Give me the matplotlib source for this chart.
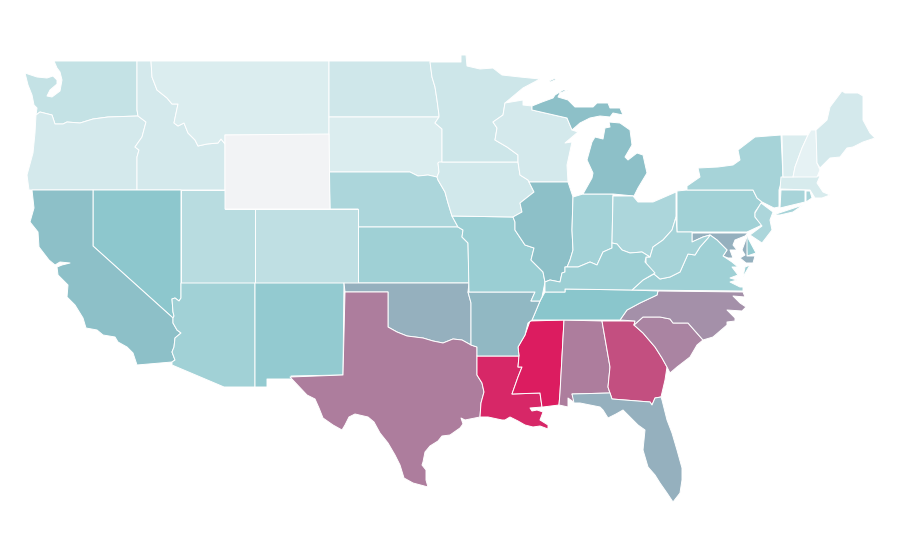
import matplotlib
matplotlib.use("Agg")
import matplotlib.pyplot as plt
from matplotlib.colors import LinearSegmentedColormap, Normalize

# outlines, (x, y) with y going down
WA = [(54,61),(137,61),(137,110),(138,116),(108,117),(93,119),(80,123),(67,122),(63,124),(55,124),(52,115),(40,112),(36,115),(37,108),(34,105),(32,95),(28,85),(25,73),(37,77),(47,78),(53,76),(57,80),(57,84),(50,90),(47,96),(52,97),(60,91),(62,80),(60,72),(57,68)]
OR = [(36,115),(40,112),(52,115),(55,124),(63,124),(67,122),(80,123),(93,119),(108,117),(138,116),(146,122),(142,137),(135,147),(139,150),(137,157),(137,190),(29,190),(27,175),(33,153),(35,133)]
ID = [(137,61),(151,61),(152,77),(157,90),(167,98),(172,104),(178,104),(175,118),(174,123),(178,126),(184,123),(188,133),(195,140),(198,146),(207,144),(218,143),(221,139),(225,144),(225,190),(137,190),(137,157),(139,150),(135,147),(142,137),(146,122),(138,116),(137,110)]
MT = [(151,61),(329,61),(329,135),(225,135),(225,144),(221,139),(218,143),(207,144),(198,146),(195,140),(188,133),(184,123),(178,126),(174,123),(175,118),(178,104),(172,104),(167,98),(157,90),(152,77)]
WY = [(225,135),(329,134),(330,209),(225,209)]
ND = [(329,61),(430,61),(432,77),(435,87),(437,100),(439,115),(439,117),(329,117)]
SD = [(329,117),(439,117),(435,123),(442,129),(442,162),(438,163),(439,172),(437,177),(428,175),(418,176),(410,172),(329,172)]
NE = [(329,172),(410,172),(418,176),(428,175),(437,177),(438,180),(445,192),(448,203),(452,216),(458,227),(358,227),(358,209),(330,209)]
KS = [(358,227),(458,227),(463,230),(462,237),(468,243),(469,283),(358,283)]
CO = [(255,209),(358,209),(358,283),(255,283)]
UT = [(181,190),(225,190),(225,209),(255,209),(255,283),(181,283)]
NV = [(93,190),(181,190),(181,298),(179,301),(175,298),(172,299),(173,312),(174,316),(173,318),(93,246)]
CA = [(32,190),(93,190),(93,246),(173,318),(173,323),(177,330),(181,333),(175,338),(174,347),(172,352),(175,360),(172,362),(137,365),(133,353),(127,347),(118,342),(115,337),(103,335),(97,330),(86,328),(83,318),(75,305),(67,297),(68,285),(58,275),(57,267),(62,265),(70,263),(60,262),(55,265),(49,260),(39,247),(38,232),(30,222),(34,208)]
AZ = [(181,283),(255,283),(255,387),(224,387),(172,365),(172,362),(175,360),(172,352),(174,347),(175,338),(181,333),(177,330),(173,323),(173,318),(174,316),(173,312),(172,299),(175,298),(179,301),(181,298)]
NM = [(255,283),(344,283),(343,375),(291,376),(293,379),(267,379),(267,387),(255,387)]
OK = [(344,283),(469,283),(468,292),(471,303),(471,345),(462,340),(453,339),(443,343),(433,341),(423,338),(415,337),(407,336),(397,332),(388,327),(388,292),(345,292)]
TX = [(345,292),(388,292),(388,327),(397,332),(407,336),(415,337),(423,338),(433,341),(443,343),(453,339),(462,340),(471,345),(477,347),(477,375),(482,383),(484,392),(481,403),(480,417),(465,420),(461,418),(463,424),(460,428),(450,435),(442,436),(438,441),(430,446),(425,452),(423,462),(422,465),(426,470),(426,480),(428,487),(413,483),(404,478),(400,465),(395,455),(388,443),(380,433),(374,422),(368,417),(355,414),(349,417),(345,425),(342,430),(333,425),(323,418),(319,408),(315,399),(307,395),(290,377),(343,375)]
LA = [(477,356),(519,356),(518,367),(522,367),(518,377),(512,394),(540,393),(542,407),(530,408),(532,411),(537,410),(543,412),(540,420),(548,425),(548,429),(540,426),(533,427),(525,425),(518,421),(510,417),(505,420),(502,420),(488,417),(480,417),(481,403),(484,392),(482,383),(477,375)]
MS = [(530,321),(564,320),(560,393),(559,405),(543,407),(542,407),(540,393),(512,394),(518,377),(522,367),(518,367),(519,356),(518,347),(525,335)]
AL = [(564,320),(602,321),(610,367),(608,387),(610,393),(572,394),(575,403),(568,398),(568,407),(559,405),(560,393)]
GA = [(602,321),(635,321),(634,325),(643,333),(655,347),(662,358),(667,367),(665,380),(661,397),(655,398),(652,405),(650,402),(612,399),(610,393),(608,387),(610,367)]
FL = [(572,394),(610,393),(612,399),(650,402),(652,405),(655,398),(661,397),(662,400),(667,420),(672,433),(677,450),(682,468),(682,480),(680,493),(673,502),(667,493),(660,483),(655,475),(648,467),(643,450),(645,430),(638,425),(633,420),(623,410),(616,414),(608,418),(603,410),(600,407),(590,405),(580,403),(574,403)]
SC = [(634,325),(643,317),(660,317),(670,319),(673,323),(688,323),(703,340),(697,345),(690,357),(677,367),(670,373),(667,367),(662,358),(655,347),(643,333)]
NC = [(658,291),(743,292),(745,297),(733,296),(740,303),(746,307),(742,311),(727,310),(735,318),(735,321),(727,322),(727,325),(713,337),(703,340),(688,323),(673,323),(670,319),(660,317),(643,317),(634,325),(635,321),(620,320),(627,310),(640,303),(657,295)]
TN = [(532,320),(620,320),(627,310),(640,303),(657,295),(658,291),(632,290),(565,289),(565,292),(545,292),(540,301),(535,313)]
AR = [(469,292),(535,292),(531,301),(540,301),(535,313),(532,320),(528,323),(525,335),(518,347),(519,356),(477,356),(477,347),(471,345),(471,303),(468,292)]
MO = [(452,216),(513,217),(515,222),(515,230),(525,245),(534,248),(531,260),(543,272),(545,282),(542,297),(540,301),(531,301),(535,292),(469,292),(468,243),(462,237),(463,230),(458,227)]
IA = [(439,162),(518,162),(520,175),(528,180),(534,192),(520,203),(522,212),(513,217),(452,216),(448,203),(445,192),(438,180),(437,177),(439,172),(438,163)]
MN = [(430,62),(461,62),(461,55),(466,55),(467,66),(480,69),(493,68),(502,75),(520,77),(540,79),(523,88),(505,103),(503,115),(493,122),(497,128),(495,140),(507,147),(518,155),(518,162),(442,162),(442,129),(435,123),(439,117),(439,115),(437,100),(435,87),(432,77)]
WI = [(505,103),(523,100),(523,105),(532,106),(532,110),(567,118),(572,130),(578,132),(565,143),(572,142),(567,165),(568,182),(529,182),(528,180),(520,175),(518,162),(518,155),(507,147),(495,140),(497,128),(493,122),(503,115)]
IL = [(529,182),(568,182),(573,197),(572,230),(573,250),(570,260),(565,272),(562,273),(560,282),(550,280),(545,282),(543,272),(531,260),(534,248),(525,245),(515,230),(515,222),(513,217),(522,212),(520,203),(534,192)]
IN = [(573,197),(583,194),(613,194),(612,243),(612,248),(603,252),(597,265),(590,262),(578,267),(565,267),(565,272),(570,260),(573,250),(572,230)]
MI = [(583,194),(592,178),(593,173),(587,160),(592,142),(595,137),(603,139),(605,128),(610,127),(609,122),(620,123),(630,130),(632,145),(625,157),(628,160),(637,153),(643,155),(647,173),(638,188),(634,196),(613,194)]
MI_UP = [(532,106),(542,102),(553,98),(555,95),(563,90),(568,90),(560,93),(558,97),(568,100),(575,107),(593,107),(597,103),(608,103),(610,108),(620,108),(623,115),(613,113),(610,117),(600,116),(590,118),(580,123),(572,130),(567,118),(532,110)]
MI_ISLE = [(549,81),(556,78),(555,80),(550,82)]
OH = [(613,196),(633,196),(638,202),(653,202),(676,192),(676,217),(672,230),(663,240),(653,247),(650,257),(642,252),(630,253),(622,250),(617,244),(612,243)]
PA = [(677,191),(687,190),(753,190),(757,198),(762,202),(755,212),(755,217),(762,225),(747,232),(677,232)]
NY = [(687,186),(700,177),(698,168),(718,167),(733,165),(740,160),(738,150),(755,137),(781,135),(783,177),(779,190),(779,207),(774,208),(762,202),(757,198),(753,190),(687,190)]
NY_LI = [(773,215),(782,212),(803,205),(793,212),(780,215)]
NJ = [(761,203),(773,212),(770,220),(772,230),(762,243),(750,235),(762,226),(755,217),(755,213)]
DE = [(748,232),(748,238),(756,253),(747,256),(746,240)]
MD = [(692,233),(748,233),(745,236),(735,240),(733,245),(737,250),(730,250),(733,258),(728,258),(723,256),(727,250),(717,240),(710,235),(703,237),(692,242)]
MD_EAST = [(747,235),(747,256),(755,256),(753,263),(746,263),(740,258),(745,255),(742,250),(745,242)]
VA = [(632,290),(743,291),(743,287),(740,287),(730,282),(737,280),(730,278),(738,275),(732,267),(738,267),(732,262),(723,256),(727,250),(717,240),(710,235),(708,238),(700,247),(695,255),(688,254),(680,272),(670,277),(660,279),(654,274),(643,280)]
VA_EAST = [(750,265),(743,277),(745,267)]
WV = [(677,232),(692,232),(692,242),(703,237),(710,235),(708,238),(700,247),(695,255),(688,254),(680,272),(670,277),(660,279),(654,274),(646,265),(646,257),(650,257),(653,247),(663,240),(672,230),(676,217)]
KY = [(612,243),(617,244),(622,250),(630,253),(642,252),(650,257),(646,257),(645,262),(655,273),(643,280),(632,290),(565,289),(565,292),(545,292),(545,282),(550,280),(560,282),(562,273),(565,272),(565,267),(578,267),(590,262),(597,265),(603,252),(612,248)]
CT = [(781,190),(805,190),(805,202),(780,208)]
RI = [(806,191),(810,191),(812,198),(806,202)]
MA = [(781,177),(820,176),(817,183),(823,192),(830,195),(822,198),(815,198),(810,190),(780,189)]
VT = [(782,135),(808,135),(802,148),(795,167),(793,177),(783,177)]
NH = [(811,130),(816,130),(817,163),(820,170),(817,177),(793,177),(795,167),(802,148),(808,135)]
ME = [(816,130),(827,120),(830,107),(842,91),(845,93),(858,93),(863,96),(863,120),(870,133),(875,138),(863,142),(853,147),(847,148),(840,157),(830,158),(820,168),(817,163)]

# value per state, None = no data
values = {
    "WA": 15, "OR": 8, "ID": 8, "MT": 5, "WY": None, "ND": 10, "SD": 5, "NE": 25, "KS": 31,
    "CO": 17, "UT": 20, "NV": 39, "CA": 42, "AZ": 30, "NM": 36, "OK": 48, "TX": 66, "LA": 96,
    "MS": 100, "AL": 66, "GA": 82, "FL": 48, "SC": 63, "NC": 59, "TN": 40, "AR": 45, "MO": 33,
    "IA": 9, "MN": 11, "WI": 8, "IL": 42, "IN": 29, "MI": 42, "OH": 25, "PA": 30, "NY": 28,
    "NJ": 25, "DE": 36, "MD": 48, "VA": 31, "WV": 28, "KY": 32, "CT": 27, "RI": 27, "MA": 7,
    "VT": 5, "NH": 0, "ME": 8,
}

shapes = {
    "WA": [WA], "OR": [OR], "ID": [ID], "MT": [MT], "ND": [ND], "SD": [SD], "NE": [NE], "KS": [KS],
    "CO": [CO], "UT": [UT], "NV": [NV], "CA": [CA], "AZ": [AZ], "NM": [NM], "OK": [OK], "TX": [TX],
    "LA": [LA], "MS": [MS], "AL": [AL], "GA": [GA], "FL": [FL], "SC": [SC], "NC": [NC], "TN": [TN],
    "AR": [AR], "MO": [MO], "IA": [IA], "MN": [MN], "WI": [WI], "IL": [IL], "IN": [IN],
    "MI": [MI, MI_UP, MI_ISLE], "OH": [OH], "PA": [PA], "NY": [NY, NY_LI], "NJ": [NJ], "DE": [DE],
    "MD": [MD, MD_EAST], "VA": [VA, VA_EAST], "WV": [WV], "KY": [KY], "CT": [CT], "RI": [RI],
    "MA": [MA], "VT": [VT], "NH": [NH], "ME": [ME], "WY": [WY],
}

cmap = LinearSegmentedColormap.from_list(
    "rate", [(0, "#e6f2f4"), (0.4, "#8ac6cc"), (1, "#dc1c60")]
)
norm = Normalize(0, 100)
no_data = "#f2f3f5"

fig = plt.figure(figsize=(9, 5.6), dpi=100)
ax = fig.add_axes([0, 0, 1, 1])

for name, parts in shapes.items():
    value = values[name]
    color = no_data if value is None else cmap(norm(value))
    for part in parts:
        xs, ys = zip(*part)
        ax.fill(xs, ys, facecolor=color, edgecolor="white", linewidth=0.7, joinstyle="round")

ax.set_xlim(0, 900)
ax.set_ylim(560, 0)
ax.axis("off")

fig.savefig("out.png", dpi=100, facecolor="white")
